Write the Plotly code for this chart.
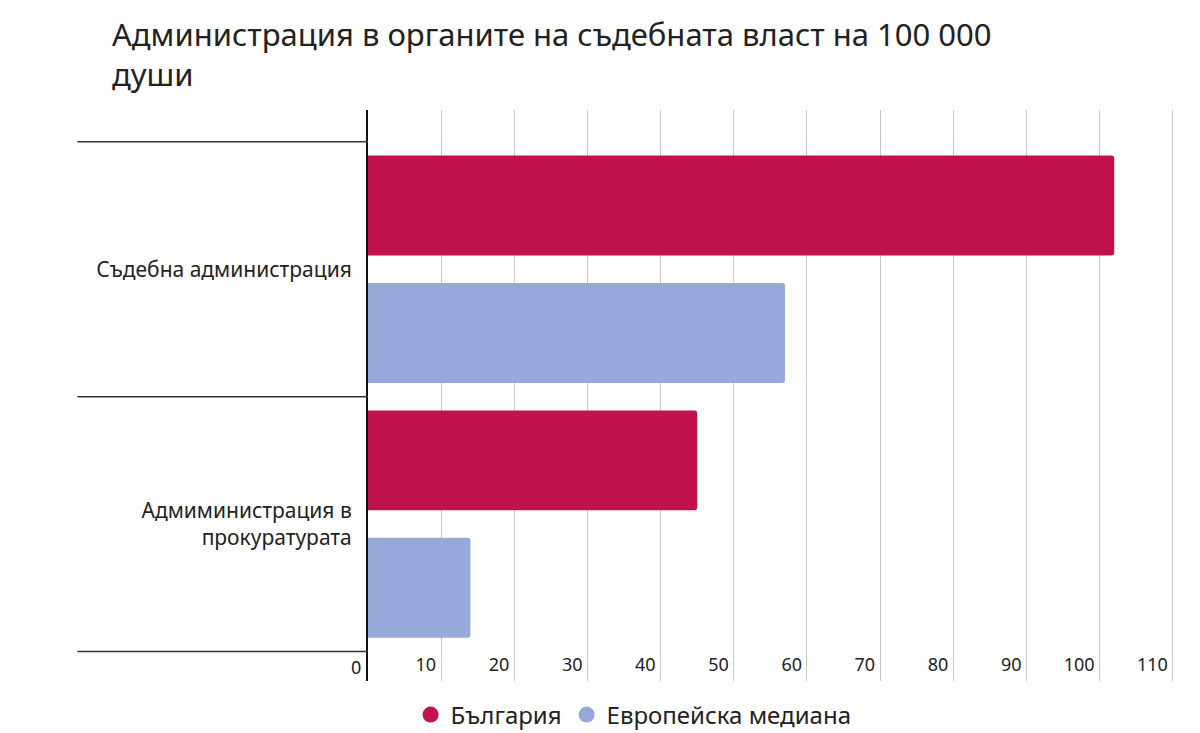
import plotly.graph_objects as go

categories = ["Съдебна администрация", "Адмиминистрация в<br>прокуратурата"]
series_names = ["България", "Европейска медиана"]
bulgaria = [102, 45]
eu_median = [57, 14]
x_ticks = [0, 10, 20, 30, 40, 50, 60, 70, 80, 90, 100, 110]
title_text = "Администрация в органите на съдебната власт на 100 000<br>души"

c_bg = "#C1134B"
c_eu = "#97A9DB"
FONT = "Noto Sans"

fig = go.Figure()
for name, vals, col in [(series_names[0], bulgaria, c_bg), (series_names[1], eu_median, c_eu)]:
    fig.add_trace(go.Bar(
        y=categories, x=vals, orientation="h", name=name,
        marker=dict(color=col, cornerradius=3, line=dict(width=0)),
        showlegend=False, hoverinfo="x+name",
    ))
# legend entries with circle markers
for name, col in [(series_names[0], c_bg), (series_names[1], c_eu)]:
    fig.add_trace(go.Scatter(
        x=[None], y=[None], mode="markers", name=name,
        marker=dict(color=col, size=24, symbol="circle"),
        showlegend=True,
    ))

# category separator lines
for yb in [-0.5, 0.5, 1.5]:
    fig.add_shape(type="line", xref="paper", yref="y", x0=-0.36, x1=0, y0=yb, y1=yb,
                  line=dict(color="#333333", width=1.5), layer="above")

# zero tick label (sits left of the axis line, outside the plot area)
fig.add_annotation(x=x_ticks[0], xref="x", y=(683 - 669) / 573, yref="paper", text=str(x_ticks[0]),
                   showarrow=False, xanchor="right", yanchor="middle", xshift=-5,
                   font=dict(size=18, color="#222222", family=FONT))

fig.update_layout(
    width=1200, height=733,
    paper_bgcolor="white", plot_bgcolor="white",
    margin=dict(l=368, r=25, t=110, b=50),
    font=dict(family=FONT, color="#222222"),
    title=dict(text=title_text, x=112/1200, xanchor="left", xref="container",
               y=1 - 46/733, yanchor="middle", yref="container",
               font=dict(size=31, color="#222222", family=FONT)),
    barmode="group", bargap=0, bargroupgap=0.216,
    legend=dict(orientation="h", xref="container", yref="container",
                x=0.528, xanchor="center", y=18/733, yanchor="middle",
                font=dict(size=24, color="#222222"), itemsizing="trace",
                bgcolor="rgba(0,0,0,0)"),
    xaxis=dict(range=[0, 110.3], tickvals=x_ticks[1:], ticktext=[str(v) for v in x_ticks[1:]],
               showgrid=True, gridcolor="#C8C8C8", gridwidth=1, zeroline=False,
               ticklabelposition="inside left", ticks="", showline=False,
               ticklabelstandoff=0, ticklabelshift=-5,
               tickfont=dict(size=18, color="#222222")),
    yaxis=dict(categoryorder="array", categoryarray=categories,
               range=[1.614, -0.625], showgrid=False, zeroline=False,
               showline=True, linecolor="#111111", linewidth=2,
               ticks="", ticklabelstandoff=10,
               tickfont=dict(size=21, color="#222222")),
)

fig.write_html("out.html")
